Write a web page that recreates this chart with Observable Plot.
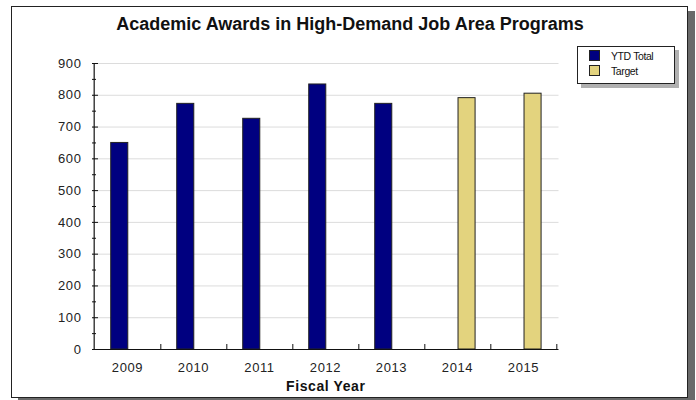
<!DOCTYPE html>
<html>
<head>
<meta charset="utf-8">
<script src="https://cdn.jsdelivr.net/npm/d3@7"></script>
<script src="https://cdn.jsdelivr.net/npm/@observablehq/plot@0.6"></script>
<style>
  html, body { margin: 0; padding: 0; background: #fff; }
  #wrap { position: relative; width: 696px; height: 400px; overflow: hidden; font-family: "Liberation Sans", Arial, sans-serif; }
  #frame { position: absolute; left: 11px; top: 6px; width: 675px; height: 390px; border: 1.5px solid #222; box-shadow: 7px 5px 0 #6a6a6a; background: #fff; }
  #chart { position: absolute; left: 0; top: 0; }
  #title { position: absolute; left: 0; width: 700px; top: 14px; text-align: center; font-weight: bold; font-size: 18px; color: #111; }
  #legend { position: absolute; left: 577px; top: 46px; width: 96px; height: 36px; border: 1px solid #222; background: #fff; box-shadow: 4px 4px 0 #b0b0b0; font-size: 10.5px; letter-spacing: -0.4px; color: #111; }
  .item { position: absolute; left: 11px; height: 12px; line-height: 12px; }
  .sw { display: inline-block; width: 11px; height: 11px; border: 1px solid #222; box-sizing: border-box; vertical-align: top; margin-right: 11px; }
  #chart svg text { letter-spacing: 0.6px; }
</style>
</head>
<body>
<div id="wrap">
  <div id="frame"></div>
  <div id="chart"></div>
  <div id="title"></div>
  <div id="legend"></div>
</div>
<script>
const title = "Academic Awards in High-Demand Job Area Programs";
const xLabel = "Fiscal Year";
const years = ["2009", "2010", "2011", "2012", "2013", "2014", "2015"];
const ytdTotal = [650, 773, 726, 834, 773, null, null];
const target = [null, null, null, null, null, 791, 805];
const seriesNames = ["YTD Total", "Target"];
const seriesColors = ["#000080", "#E3D37E"];
const yMajorTicks = [0, 100, 200, 300, 400, 500, 600, 700, 800, 900];
const yMinorTicks = [50, 150, 250, 350, 450, 550, 650, 750, 850];

const ytdRows = years.map((y, i) => ({year: y, value: ytdTotal[i]})).filter(d => d.value != null);
const targetRows = years.map((y, i) => ({year: y, value: target[i]})).filter(d => d.value != null);

const W = 696, H = 400;
const mL = 92, mR = 137.5, mT = 63, mB = 51;
const bw = (W - mL - mR) / years.length;

const chart = Plot.plot({
  width: W,
  height: H,
  marginLeft: mL,
  marginRight: mR,
  marginTop: mT,
  marginBottom: mB,
  style: {fontFamily: "Liberation Sans, Arial, sans-serif", fontSize: "13px", color: "#222", background: "transparent", overflow: "visible"},
  x: {type: "band", domain: years, padding: 0, axis: null},
  y: {domain: [0, 900], axis: null},
  marks: [
    Plot.ruleY(yMajorTicks.filter(d => d > 0), {y: d => d, stroke: "#dcdcdc", strokeWidth: 1}),
    Plot.barY(ytdRows, {x: "year", y: "value", fill: seriesColors[0], stroke: "#222", strokeWidth: 1, insetLeft: bw / 2 - 16.6, insetRight: bw / 2 - 1.1}),
    Plot.barY(targetRows, {x: "year", y: "value", fill: seriesColors[1], stroke: "#222", strokeWidth: 1, insetLeft: bw / 2 + 0.7, insetRight: bw / 2 - 18.4}),
    Plot.axisY(yMajorTicks, {tickSize: 0, tickPadding: 11, fontSize: 13, fill: "#222", label: null}),
    Plot.axisY(yMajorTicks, {tickSize: -6, text: null, stroke: "#111", label: null}),
    Plot.axisY(yMinorTicks, {tickSize: -4, text: null, stroke: "#111", label: null}),
    Plot.axisX(years, {tickSize: 0, tickPadding: 13, fontSize: 13, fill: "#222", label: null}),
    Plot.axisX(years, {tickSize: -5, text: null, dx: bw / 2, stroke: "#111", label: null}),
    Plot.ruleY([0], {stroke: "#111", strokeWidth: 1.2}),
    Plot.ruleX([years[0]], {dx: -bw / 2, y1: 0, y2: 900, stroke: "#111", strokeWidth: 1.2}),
    Plot.text([xLabel], {frameAnchor: "bottom", dy: 41, text: d => d, fontWeight: "bold", fontSize: 14, fill: "#111"})
  ]
});
document.getElementById("chart").appendChild(chart);
document.getElementById("title").textContent = title;

const legend = document.getElementById("legend");
seriesNames.forEach((name, i) => {
  const item = document.createElement("div");
  item.className = "item";
  item.style.top = (3 + i * 15) + "px";
  const sw = document.createElement("span");
  sw.className = "sw";
  sw.style.background = seriesColors[i];
  item.appendChild(sw);
  item.appendChild(document.createTextNode(name));
  legend.appendChild(item);
});
</script>
</body>
</html>
